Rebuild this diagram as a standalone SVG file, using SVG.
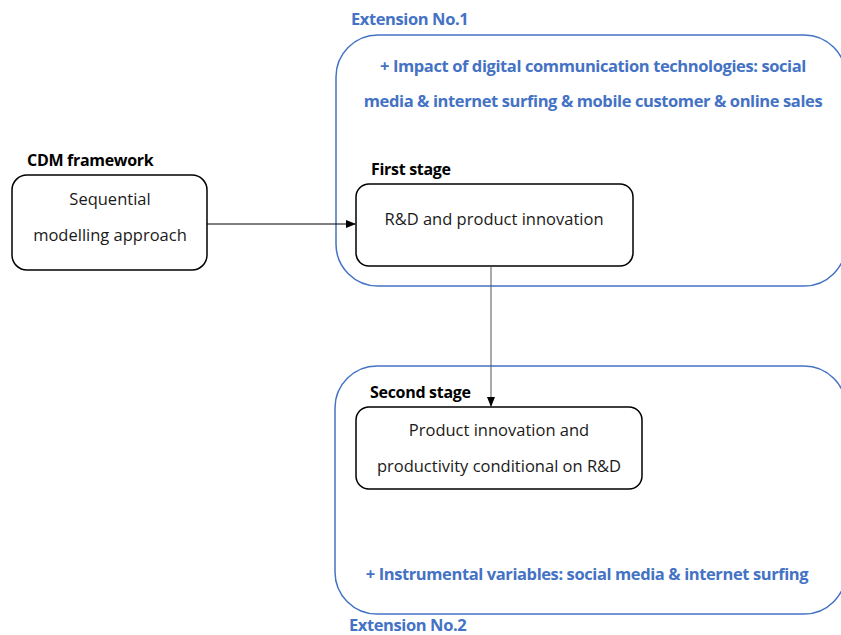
<svg xmlns="http://www.w3.org/2000/svg" width="841" height="635" viewBox="0 0 841 635">
<defs>
<marker id="ah" markerWidth="10" markerHeight="8" refX="9" refY="4" orient="auto" markerUnits="userSpaceOnUse">
<path d="M0,0 L10,4 L0,8 Z" fill="#000"/>
</marker>
<style>
.t{font-family:"Open Sans","Noto Sans",sans-serif;font-size:16.5px;fill:#1a1a1a}
.b{font-family:"Open Sans","Noto Sans",sans-serif;font-size:16px;font-weight:bold;fill:#000;letter-spacing:-0.3px}
.bl{font-family:"Open Sans","Noto Sans",sans-serif;font-size:16.5px;font-weight:bold;fill:#4472C4;letter-spacing:-0.4px}
.node{fill:#fff;stroke:#000;stroke-width:1.5}
.ext{fill:none;stroke:#4472C4;stroke-width:1.5}
</style>
</defs>
<rect width="841" height="635" fill="#fff"/>
<g id="ext1">
<rect class="ext" x="336" y="35" width="510" height="251" rx="42"/>
<text class="bl" x="351" y="25">Extension No.1</text>
<text class="bl" x="593" y="72" text-anchor="middle">+ Impact of digital communication technologies: social</text>
<text class="bl" x="593" y="107" text-anchor="middle">media &amp; internet surfing &amp; mobile customer &amp; online sales</text>
</g>
<g id="ext2">
<rect class="ext" x="335" y="366" width="511" height="248" rx="42"/>
<text class="bl" x="587" y="580" text-anchor="middle">+ Instrumental variables: social media &amp; internet surfing</text>
<text class="bl" x="349" y="631">Extension No.2</text>
</g>
<g id="cdm">
<text class="b" x="27" y="166">CDM framework</text>
<rect class="node" x="12" y="175" width="195" height="95" rx="15"/>
<text class="t" x="110" y="205" text-anchor="middle">Sequential</text>
<text class="t" x="110" y="241" text-anchor="middle">modelling approach</text>
</g>
<g id="stage1">
<text class="b" x="371" y="175">First stage</text>
<rect class="node" x="356" y="184" width="277" height="82" rx="13"/>
<text class="t" x="494" y="225" text-anchor="middle">R&amp;D and product innovation</text>
</g>
<g id="stage2">
<text class="b" x="370" y="398">Second stage</text>
<rect class="node" x="356" y="407" width="286" height="82" rx="13"/>
<text class="t" x="499" y="436" text-anchor="middle">Product innovation and</text>
<text class="t" x="499" y="472" text-anchor="middle">productivity conditional on R&amp;D</text>
</g>
<g id="connectors" fill="none" stroke-width="1">
<line x1="207" y1="224" x2="355" y2="224" stroke="#000" marker-end="url(#ah)"/>
<line x1="491" y1="266" x2="491" y2="406" stroke="#555" marker-end="url(#ah)"/>
</g>
</svg>
